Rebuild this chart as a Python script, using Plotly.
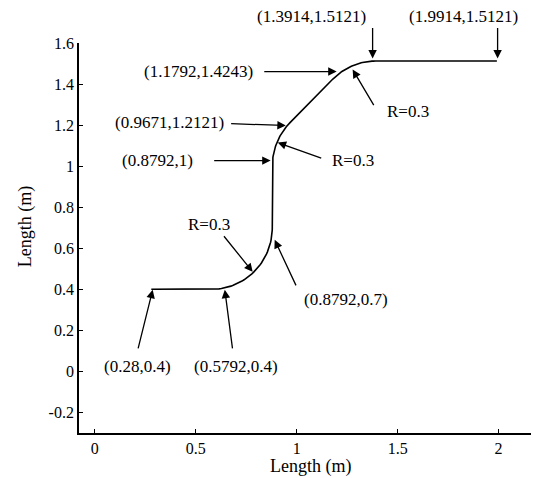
import numpy as np
import plotly.graph_objects as go

# Key points of the path (m)
path_x = [0.28, 0.5792, 0.8792, 0.8792, 0.9671, 1.1792, 1.3914, 1.9914]
path_y = [0.4, 0.4, 0.7, 1.0, 1.2121, 1.4243, 1.5121, 1.5121]
# segment types between consecutive key points: 'L' line, 'A' arc of radius R
seg_type = ['L', 'A', 'L', 'A', 'L', 'A', 'L']
arc_centers = {1: (0.5792, 0.7), 3: (1.1792, 1.0), 5: (1.3914, 1.2121)}
R = 0.3

point_labels = ["(0.28,0.4)", "(0.5792,0.4)", "(0.8792,0.7)", "(0.8792,1)",
                "(0.9671,1.2121)", "(1.1792,1.4243)", "(1.3914,1.5121)", "(1.9914,1.5121)"]
radius_label = "R=0.3"

xticks = [0, 0.5, 1, 1.5, 2]
xtick_text = ["0", "0.5", "1", "1.5", "2"]
yticks = [-0.2, 0, 0.2, 0.4, 0.6, 0.8, 1.0, 1.2, 1.4, 1.6]
ytick_text = ["-0.2", "0", "0.2", "0.4", "0.6", "0.8", "1", "1.2", "1.4", "1.6"]
axis_title = "Length (m)"

# build the curve
xs, ys = [path_x[0]], [path_y[0]]
for i, t in enumerate(seg_type):
    x0, y0, x1, y1 = path_x[i], path_y[i], path_x[i + 1], path_y[i + 1]
    if t == 'L':
        xs.append(x1); ys.append(y1)
    else:
        cx, cy = arc_centers[i]
        a0 = np.arctan2(y0 - cy, x0 - cx)
        a1 = np.arctan2(y1 - cy, x1 - cx)
        ang = np.linspace(a0, a1, 40)[1:]
        xs.extend(list(cx + R * np.cos(ang)))
        ys.extend(list(cy + R * np.sin(ang)))

fig = go.Figure()
fig.add_trace(go.Scatter(x=xs, y=ys, mode="lines",
                         line=dict(color="black", width=1.6),
                         hoverinfo="skip", showlegend=False))

FONT = "Liberation Serif, Times New Roman, serif"
texts = [
    (point_labels[0], 0.213, 0.022, "y"),
    (point_labels[1], 0.698, 0.022, "y"),
    (point_labels[2], 1.243, 0.349, "y"),
    (radius_label, 0.564, 0.715, "y"),
    (point_labels[3], 0.312, 1.027, "y"),
    (point_labels[4], 0.371, 1.212, "y"),
    (radius_label, 1.277, 1.027, "y"),
    (point_labels[5], 0.515, 1.461, "y"),
    (radius_label, 1.550, 1.266, "y"),
    (point_labels[6], 1.074, 1.067, "paper"),
    (point_labels[7], 1.827, 1.067, "paper"),
]
arrows = [
    (0.213, 0.105, 0.287, 0.398),
    (0.683, 0.105, 0.644, 0.398),
    (1.000, 0.412, 0.891, 0.641),
    (0.634, 0.666, 0.782, 0.485),
    (0.584, 1.027, 0.871, 1.027),
    (0.668, 1.207, 0.946, 1.198),
    (1.129, 1.037, 0.906, 1.115),
    (0.832, 1.461, 1.198, 1.461),
    (1.386, 1.290, 1.277, 1.471),
    (1.376, 1.680, 1.376, 1.525),
    (1.995, 1.680, 1.995, 1.525),
]
annotations = []
for t, x, y, yr in texts:
    annotations.append(dict(x=x, y=y, xref="x", yref=yr, text=t, showarrow=False,
                            xanchor="center", yanchor="middle",
                            font=dict(family=FONT, size=17, color="black")))
for tx, ty, hx, hy in arrows:
    annotations.append(dict(x=hx, y=hy, ax=tx, ay=ty, xref="x", yref="y",
                            axref="x", ayref="y", text="", showarrow=True,
                            arrowhead=2, arrowsize=1.3, arrowwidth=1.3,
                            arrowcolor="black", standoff=0, startstandoff=0))
# axis titles
annotations.append(dict(x=0.504, y=-0.087, xref="paper", yref="paper", text=axis_title,
                        xanchor="center", yanchor="middle",
                        showarrow=False, font=dict(family=FONT, size=18, color="black")))
annotations.append(dict(x=-0.117, y=0.528, xref="paper", yref="paper", text=axis_title,
                        textangle=-90, xanchor="center", yanchor="middle", showarrow=False,
                        font=dict(family=FONT, size=18, color="black")))

# page has an 8px body margin, so the figure is sized/offset to compensate
fig.update_layout(
    width=531, height=470,
    margin=dict(l=71, r=0, t=35, b=45),
    paper_bgcolor="white", plot_bgcolor="white",
    font=dict(family=FONT, size=16, color="black"),
    annotations=annotations,
    xaxis=dict(range=[-0.078, 2.2], tickvals=xticks, ticktext=xtick_text, automargin=False,
               showgrid=False, zeroline=False, showline=True, linecolor="black", linewidth=1.8,
               ticks="inside", ticklen=4, tickcolor="black"),
    yaxis=dict(range=[-0.3, 1.6], tickvals=yticks, ticktext=ytick_text, automargin=False,
               showgrid=False, zeroline=False, showline=True, linecolor="black", linewidth=1.8,
               ticks="inside", ticklen=4, tickcolor="black"),
)
fig.write_html("out.html")
